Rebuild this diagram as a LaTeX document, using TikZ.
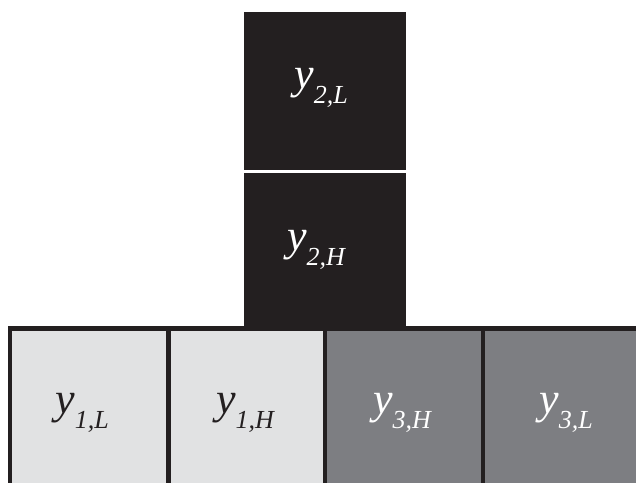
\documentclass[tikz,border=0pt]{standalone}
\usepackage{fontspec}
\setmainfont{Liberation Serif}[ItalicFont={Liberation Serif Italic}]
\definecolor{ink}{HTML}{231F20}
\definecolor{pale}{HTML}{E1E2E3}
\definecolor{mid}{HTML}{7D7E82}
% italic y with a lowered, smaller index
\newcommand{\yidx}[1]{{\fontsize{44}{44}\selectfont\itshape y}{\fontsize{26}{26}\selectfont\itshape\raisebox{-15pt}{#1}}}
\begin{document}
\begin{tikzpicture}[x=1pt,y=-1pt,
  lbl/.style={inner sep=0pt,anchor=base},
  grid/.style={draw=ink,line width=4.6pt}]
\useasboundingbox (0,0) rectangle (636,482);
\clip (0,0) rectangle (636,482);
% stacked black blocks
\fill[ink] (244,12) rectangle (406,170);
\fill[ink] (244,173) rectangle (406,328);
% bottom row of cells
\fill[pale] (12,331) rectangle (325,500);
\fill[mid] (325,331) rectangle (660,500);
\draw[grid] (10,520) -- (10,328.5) -- (660,328.5);
\draw[grid] (168.5,328.5) -- (168.5,520);
\draw[grid] (325,328.5) -- (325,520);
\draw[grid] (483,328.5) -- (483,520);
% labels
\node[lbl,text=white] (y2L) at (321,88) {\yidx{2,L}};
\node[lbl,text=white] (y2H) at (316,250) {\yidx{2,H}};
\node[lbl,text=ink] (y1L) at (82,413) {\yidx{1,L}};
\node[lbl,text=ink] (y1H) at (245,413) {\yidx{1,H}};
\node[lbl,text=white] (y3H) at (402,413) {\yidx{3,H}};
\node[lbl,text=white] (y3L) at (566,413) {\yidx{3,L}};
\end{tikzpicture}
\end{document}
